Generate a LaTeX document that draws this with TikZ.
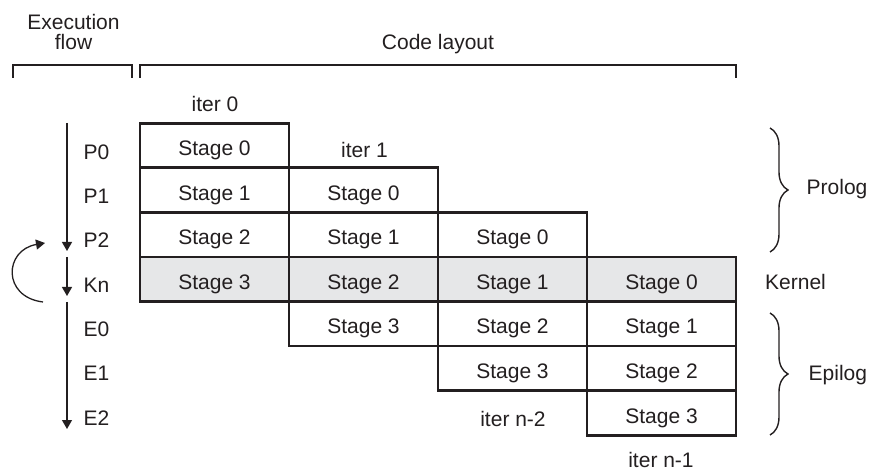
\documentclass[tikz,border=0pt]{standalone}
\usepackage{fontspec}
\setmainfont{Liberation Sans}
\usetikzlibrary{arrows.meta,decorations.pathreplacing}
\definecolor{ink}{HTML}{231F20}
\definecolor{kgray}{HTML}{E6E7E8}
\tikzset{
  cell/.style={draw=ink, line width=2.8pt, minimum width=149pt, minimum height=44.55pt, inner sep=0pt, text=ink, text height=20.4pt, text depth=0pt},
  lbl/.style={text=ink, inner sep=0pt},
  flow/.style={draw=ink, line width=1.3pt, -{Triangle[width=10pt,length=9pt]}},
  thin/.style={draw=ink, line width=1.3pt},
  brc/.style={draw=ink, line width=1.4pt, decorate, decoration={brace, amplitude=18pt}}
}
\begin{document}
\begin{tikzpicture}[x=1pt,y=-1pt, font=\fontsize{21}{20}\selectfont]
\path[use as bounding box] (0,0) rectangle (870,470);
% top brackets
\node[lbl, anchor=base] (ef1) at (73.5,30) {Execution};
\node[lbl, anchor=base] (ef2) at (73.5,50) {flow};
\node[lbl, anchor=base] (cl) at (438,50) {Code layout};
\draw[thin] (13,78) -- (13,65) -- (132,65) -- (132,78);
\draw[thin] (140,78) -- (140,65) -- (736,65) -- (736,78);
% cells
\foreach \c in {0,...,3}{
  \foreach \s in {0,...,3}{
    \pgfmathtruncatemacro\r{\c+\s}
    \edef\fc{\ifnum\r=3 kgray\else white\fi}
    \node[cell, fill=\fc] (c\c s\s) at ({140+149*\c+74.5},{123.3+44.55*\r+22.275}) {Stage \s};
  }
}
% iteration labels
\node[lbl, anchor=base] (it0) at (215,112) {iter 0};
\node[lbl, anchor=base] (it1) at (364.5,158) {iter 1};
\node[lbl, anchor=base] (itn2) at (513,426) {iter n-2};
\node[lbl, anchor=base] (itn1) at (661,467) {iter n-1};
% row labels
\foreach \n [count=\i from 0] in {P0,P1,P2,Kn,E0,E1,E2}{
  \node[lbl, anchor=base west] (l\n) at (83.5,{159.5+44.25*\i}) {\n};
}
% execution flow arrows
\coordinate (a0) at (67,123);
\coordinate (a1) at (67,251);
\coordinate (b0) at (67,257);
\coordinate (b1) at (67,296);
\coordinate (d0) at (67,302);
\coordinate (d1) at (67,429);
\draw[flow] (a0) -- (a1);
\draw[flow] (b0) -- (b1);
\draw[flow] (d0) -- (d1);
% loop back arrow
\coordinate (k0) at (43,302);
\coordinate (k1) at (45,243);
\draw[flow] (k0) .. controls (2,297) and (4,250) .. (k1);
% right braces
\draw[brc] (770,128) -- (770,252);
\draw[brc] (770,313) -- (770,435);
\node[lbl, anchor=base west] (pro) at (806.5,195) {Prolog};
\node[lbl, anchor=base west] (ker) at (765,289.5) {Kernel};
\node[lbl, anchor=base west] (epi) at (808.5,380) {Epilog};
\end{tikzpicture}
\end{document}
